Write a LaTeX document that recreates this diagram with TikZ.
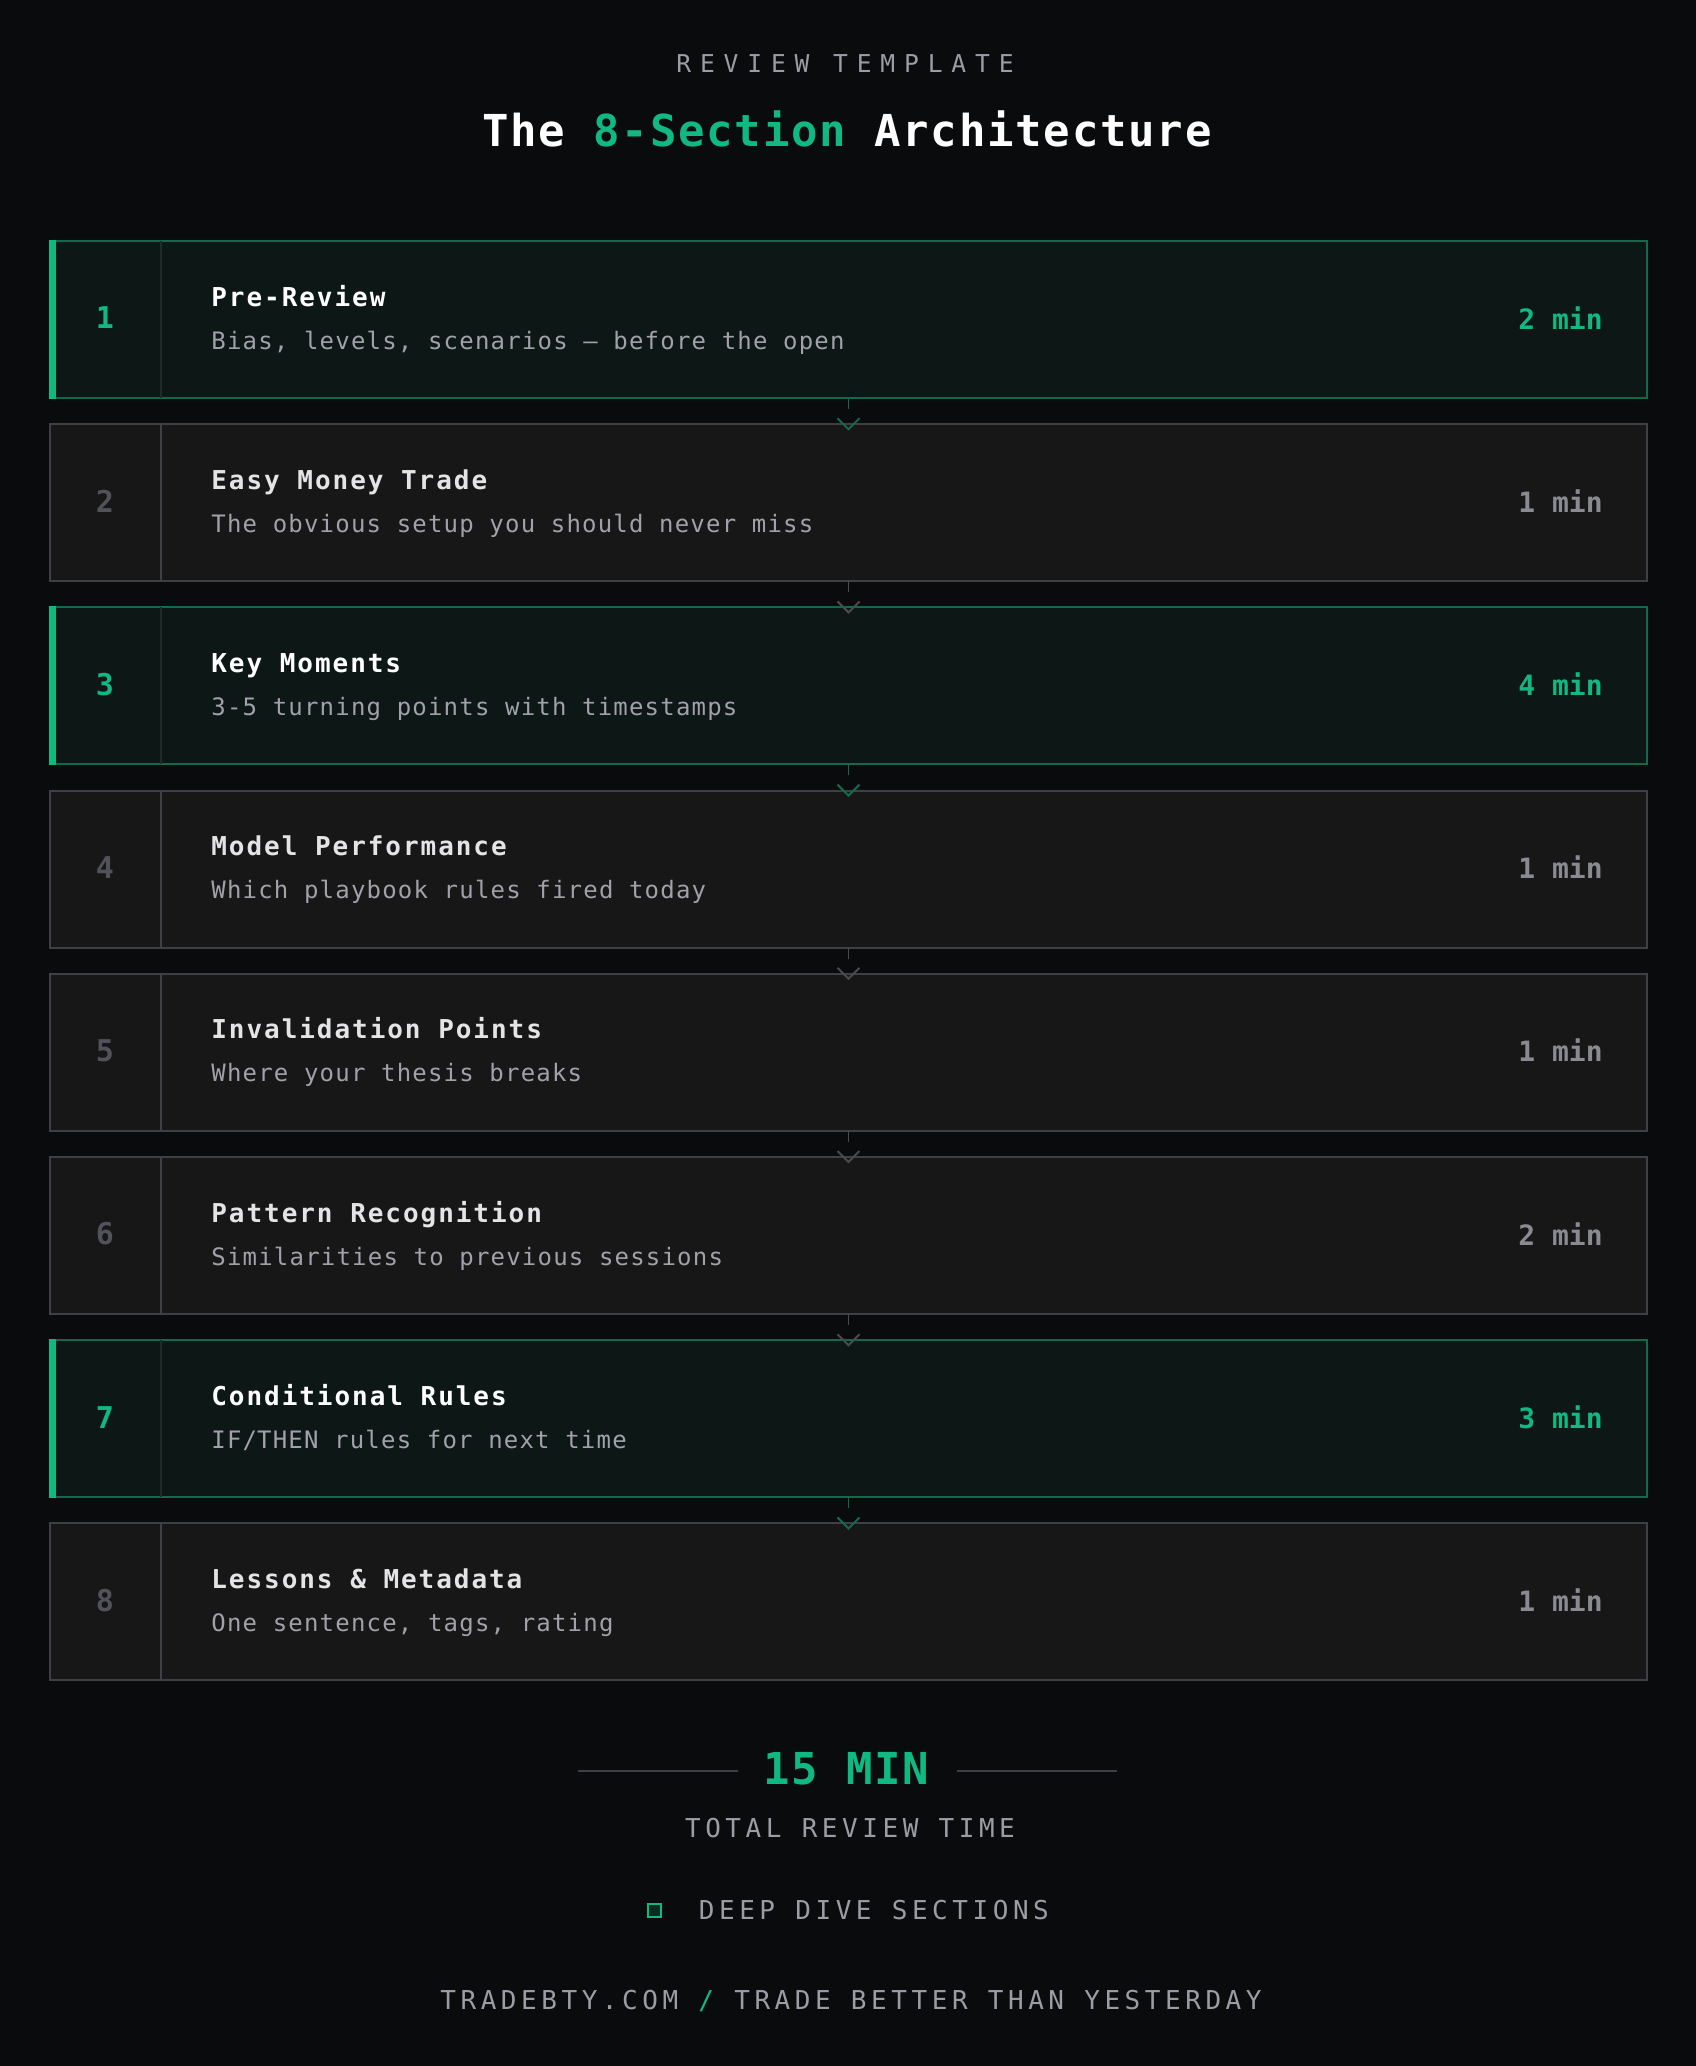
\documentclass[tikz,border=0pt]{standalone}
\usepackage{fontspec}
\setmonofont{DejaVu Sans Mono}
\newfontfamily\kickerfont[LetterSpace=36]{DejaVu Sans Mono}
\newfontfamily\headfont[LetterSpace=4]{DejaVu Sans Mono}
\newfontfamily\rowfont[LetterSpace=7.5]{DejaVu Sans Mono}
\newfontfamily\subfont[LetterSpace=5]{DejaVu Sans Mono}
\newfontfamily\capsfont[LetterSpace=17.5]{DejaVu Sans Mono}
\newfontfamily\plainmono{DejaVu Sans Mono}

\definecolor{bgdark}{HTML}{0A0B0D}
\definecolor{rowfill}{HTML}{171717}
\definecolor{rowline}{HTML}{3F3F46}
\definecolor{hifill}{HTML}{0C1716}
\definecolor{hiline}{HTML}{15694B}
\definecolor{hidiv}{HTML}{1F2D2A}
\definecolor{accent}{HTML}{10B981}
\definecolor{titlegray}{HTML}{E4E4E7}
\definecolor{subgray}{HTML}{A1A1AA}
\definecolor{numgray}{HTML}{52525B}
\definecolor{mingray}{HTML}{8A8A92}
\definecolor{capgray}{HTML}{9C9CA4}
\definecolor{linkgray}{HTML}{4A4A50}
\definecolor{chipfill}{HTML}{0C2A20}

\tikzset{
  rowbox/.style={draw, line width=1pt, minimum width=798.5pt, minimum height=78.5pt, inner sep=0pt, outer sep=0pt},
  numtext/.style={font=\plainmono\bfseries\fontsize{15pt}{17pt}\selectfont, inner sep=0pt},
  titletext/.style={font=\rowfont\bfseries\fontsize{13pt}{15pt}\selectfont, inner sep=0pt, anchor=base west},
  subtext/.style={font=\subfont\fontsize{12pt}{14pt}\selectfont, text=subgray, inner sep=0pt, anchor=base west},
  mintext/.style={font=\plainmono\bfseries\fontsize{14pt}{16pt}\selectfont, inner sep=0pt, anchor=base east},
  capstext/.style={font=\capsfont\fontsize{13pt}{15pt}\selectfont, text=capgray, inner sep=0pt},
  link/.style={line width=0.75pt},
}

\begin{document}
\begin{tikzpicture}[x=0.5pt,y=-0.5pt]
\fill[bgdark] (0,0) rectangle (1696,2066);
\useasboundingbox (0,0) rectangle (1696,2066);

% heading
\node[font=\kickerfont\fontsize{12.3pt}{14pt}\selectfont, text=capgray, inner sep=0pt] (kicker) at (845,64) {REVIEW TEMPLATE};
\node[font=\headfont\bfseries\fontsize{22pt}{26pt}\selectfont, text=white, inner sep=0pt] (heading) at (847,129) {The \textcolor{accent}{8-Section} Architecture};

% sections
\foreach \n/\ttl/\sub/\mins/\hl [count=\k from 0] in {
  1/Pre-Review/{Bias, levels, scenarios — before the open}/2 min/1,
  2/Easy Money Trade/The obvious setup you should never miss/1 min/0,
  3/Key Moments/3-5 turning points with timestamps/4 min/1,
  4/Model Performance/Which playbook rules fired today/1 min/0,
  5/Invalidation Points/Where your thesis breaks/1 min/0,
  6/Pattern Recognition/Similarities to previous sessions/2 min/0,
  7/Conditional Rules/IF\slash THEN rules for next time/3 min/1,
  8/Lessons \& Metadata/{One sentence, tags, rating}/1 min/0}{
  \pgfmathsetmacro\yc{319.5+183.2*\k}
  \ifnum\hl=1
    \def\edge{hiline}\def\body{hifill}\def\divc{hidiv}\def\numc{accent}\def\ttlc{white}\def\minc{accent}
  \else
    \def\edge{rowline}\def\body{rowfill}\def\divc{rowline}\def\numc{numgray}\def\ttlc{titlegray}\def\minc{mingray}
  \fi
  \node[rowbox, draw=\edge, fill=\body] (row\n) at (848.5,\yc) {};
  \draw[draw=\divc, line width=0.75pt] ([xshift=55.5pt]row\n.north west) -- ([xshift=55.5pt]row\n.south west);
  \ifnum\hl=1
    \fill[accent] ([xshift=-0.5pt,yshift=0.5pt]row\n.north west) rectangle ([xshift=3pt,yshift=-0.5pt]row\n.south west);
  \fi
  \node[numtext, text=\numc] (num\n) at ([xshift=27.5pt,yshift=0.75pt]row\n.west) {\n};
  \node[titletext, text=\ttlc] (ttl\n) at ([xshift=80.5pt,yshift=6.75pt]row\n.west) {\ttl};
  \node[subtext] (sub\n) at ([xshift=80.5pt,yshift=-14.75pt]row\n.west) {\sub};
  \node[mintext, text=\minc] (min\n) at ([xshift=-22pt,yshift=-4.75pt]row\n.east) {\mins};
}

% links between sections
\foreach \a/\b/\cc in {1/2/hiline,2/3/linkgray,3/4/hiline,4/5/linkgray,5/6/linkgray,6/7/linkgray,7/8/hiline}{
  \draw[link, draw=\cc] (row\a.south) -- ++(0,11);
  \draw[link, draw=\cc, line width=1pt] ([xshift=-5.5pt,yshift=3pt]row\b.north) -- ([yshift=-2.5pt]row\b.north) -- ([xshift=5.5pt,yshift=3pt]row\b.north);
}

% total
\node[font=\headfont\bfseries\fontsize{22pt}{26pt}\selectfont, text=accent, inner sep=0pt] (total) at (846,1769) {15 MIN};
\draw[rowline, line width=1pt] ([xshift=-12.5pt,yshift=-1pt]total.west) -- ++(-160,0);
\draw[rowline, line width=1pt] ([xshift=14pt,yshift=-1pt]total.east) -- ++(160,0);
\node[capstext] (totallbl) at (850,1828) {TOTAL REVIEW TIME};

% legend
\node[draw=accent, fill=chipfill, line width=1pt, minimum size=6.5pt, inner sep=0pt] (chip) at (654.5,1910) {};
\node[capstext, anchor=west] (legend) at (698.5,1910) {DEEP DIVE SECTIONS};

% footer
\node[capstext] (footer) at (851,2001) {TRADEBTY.COM \textcolor{accent}{/} TRADE BETTER THAN YESTERDAY};
\end{tikzpicture}
\end{document}
